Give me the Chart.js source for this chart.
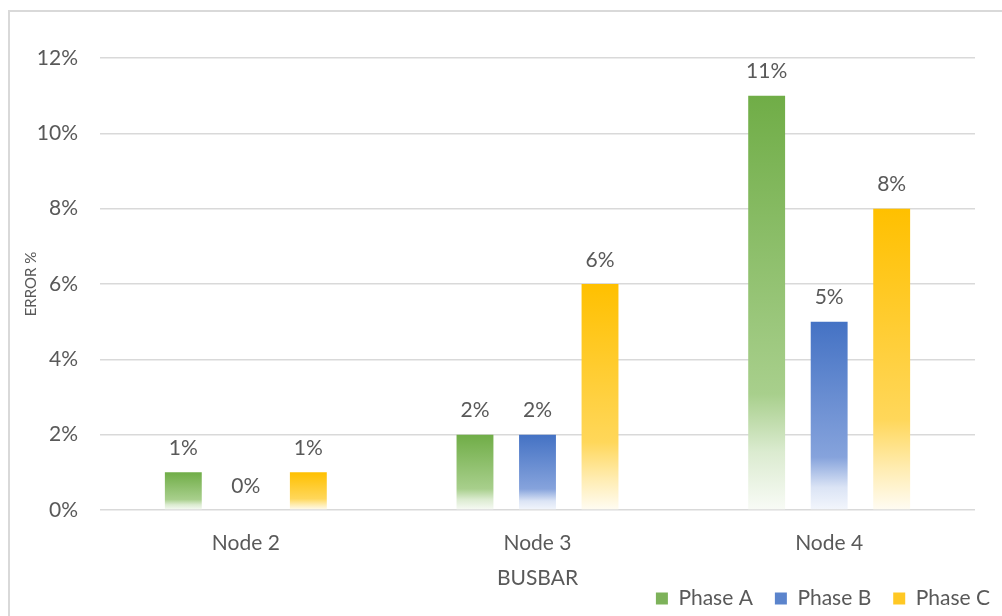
<!DOCTYPE html>
<html>
<head>
<meta charset="utf-8">
<script src="https://cdn.jsdelivr.net/npm/chart.js@4/dist/chart.umd.min.js"></script>
<style>
  html, body { margin: 0; padding: 0; background: #fff; overflow: hidden; }
  #frame { position: absolute; left: 8px; top: 10px; width: 1100px; height: 700px; border: 2px solid #d9d9d9; }
  #myChart { position: absolute; left: 0; top: 0; }
</style>
</head>
<body>
<div id="frame"></div>
<canvas id="myChart" width="1002" height="616"></canvas>
<script>
var nodes = ['Node 2', 'Node 3', 'Node 4'];
var phaseA = [1, 2, 11];
var phaseB = [0, 2, 5];
var phaseC = [1, 6, 8];
var yTicks = [0, 2, 4, 6, 8, 10, 12];

var textColor = '#595959';
var fontFamily = 'Lato, "Open Sans", sans-serif';

// vertical fade: full colour at the top of each bar, almost white at its base
function fade(stops) {
  return function (c) {
    if (c.type !== 'data' || !c.chart.chartArea) return stops[0][1];
    var y = c.chart.scales.y;
    var top = y.getPixelForValue(c.raw);
    var base = y.getPixelForValue(0);
    if (base - top < 1) return stops[0][1];
    var g = c.chart.ctx.createLinearGradient(0, top, 0, base);
    stops.forEach(function (s) { g.addColorStop(s[0], s[1]); });
    return g;
  };
}

var greenStops = [[0, '#70ad47'], [0.72, '#a8cf8c'], [0.86, '#dbebd0'], [1, '#f8fbf6']];
var blueStops = [[0, '#4472c4'], [0.72, '#86a3dc'], [0.88, '#dbe4f5'], [1, '#f3f6fc']];
var orangeStops = [[0, '#ffc000'], [0.7, '#ffd75a'], [0.86, '#ffecb0'], [1, '#fffcf3']];
var legendColors = ['#7db25a', '#5b84cc', '#ffc824'];

// value labels above the bars
var barLabels = {
  id: 'barLabels',
  afterDatasetsDraw: function (chart) {
    var ctx = chart.ctx;
    ctx.save();
    ctx.font = '21px ' + fontFamily;
    ctx.fillStyle = textColor;
    ctx.textAlign = 'center';
    ctx.textBaseline = 'middle';
    chart.data.datasets.forEach(function (ds, i) {
      chart.getDatasetMeta(i).data.forEach(function (bar, j) {
        ctx.fillText(ds.data[j] + '%', bar.x, bar.y - 24);
      });
    });
    ctx.restore();
  }
};

// push the legend row a little past the right edge of the plot
var legendShift = {
  id: 'legendShift',
  afterLayout: function (chart) {
    chart.legend.left += 37;
    chart.legend.right += 37;
  }
};

var ctx = document.getElementById('myChart').getContext('2d');
var myChart = new Chart(ctx, {
  type: 'bar',
  data: {
    labels: nodes,
    datasets: [{
      label: 'Phase A',
      data: phaseA,
      backgroundColor: fade(greenStops),
      barPercentage: 0.59,
      categoryPercentage: 0.643
    }, {
      label: 'Phase B',
      data: phaseB,
      backgroundColor: fade(blueStops),
      barPercentage: 0.59,
      categoryPercentage: 0.643
    }, {
      label: 'Phase C',
      data: phaseC,
      backgroundColor: fade(orangeStops),
      barPercentage: 0.59,
      categoryPercentage: 0.643
    }]
  },
  options: {
    responsive: false,
    animation: false,
    layout: {
      padding: { left: 14, top: 58, right: 27, bottom: -3 }
    },
    plugins: {
      tooltip: { enabled: false },
      legend: {
        position: 'bottom',
        align: 'end',
        labels: {
          boxWidth: 12,
          boxHeight: 12,
          padding: 22,
          color: textColor,
          font: { family: fontFamily, size: 21 },
          generateLabels: function (chart) {
            var items = Chart.defaults.plugins.legend.labels.generateLabels(chart);
            items.forEach(function (item, i) {
              item.fillStyle = legendColors[i];
              item.strokeStyle = legendColors[i];
              item.lineWidth = 0;
            });
            return items;
          }
        }
      }
    },
    scales: {
      x: {
        afterFit: function (scale) { scale.height = 56; },
        grid: { display: false, drawTicks: false },
        border: { display: false },
        ticks: {
          color: textColor,
          padding: 21,
          font: { family: fontFamily, size: 21 }
        },
        title: {
          display: true,
          text: 'BUSBAR',
          color: textColor,
          padding: { top: 0, bottom: -25 },
          font: { family: fontFamily, size: 21 }
        }
      },
      y: {
        min: 0,
        max: 12,
        afterFit: function (scale) { scale.width = 86; },
        afterBuildTicks: function (scale) {
          scale.ticks = yTicks.map(function (v) { return { value: v }; });
        },
        grid: { color: '#d9d9d9', lineWidth: 1.5, drawTicks: false },
        border: { display: false },
        ticks: {
          color: textColor,
          padding: 22,
          font: { family: fontFamily, size: 21 },
          callback: function (v) { return v + '%'; }
        },
        title: {
          display: true,
          text: 'ERROR %',
          color: textColor,
          padding: { top: 8, bottom: 0 },
          font: { family: fontFamily, size: 15 }
        }
      }
    }
  },
  plugins: [barLabels, legendShift]
});
</script>
</body>
</html>
